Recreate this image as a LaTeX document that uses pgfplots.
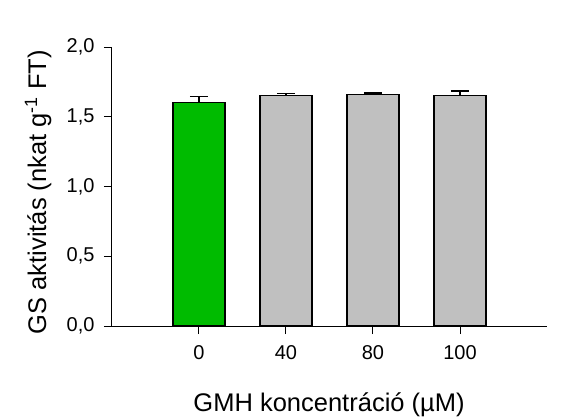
\documentclass[border=0pt]{standalone}
\usepackage{pgfplots}
\pgfplotsset{compat=1.18}
\usepackage{fontspec}
\setmainfont{Liberation Sans}
\definecolor{bargreen}{RGB}{0,187,0}
\definecolor{bargray}{RGB}{192,192,192}
\begin{document}
\begin{tikzpicture}
\useasboundingbox (-112pt,-90pt) rectangle (461pt,326pt);
\begin{axis}[
  scale only axis,
  width=435pt, height=279pt,
  xmin=-1, xmax=4, ymin=0, ymax=2.0,
  axis x line=bottom, axis y line=left,
  axis line style={line width=1pt, -},
  tick align=outside,
  major tick length=8pt,
  tick style={line width=1pt, black},
  xtick={0,1,2,3}, xticklabels={0,40,80,100},
  ytick={0,0.5,1.0,1.5,2.0},
  /pgf/number format/assume math mode=true,
  /pgf/number format/use comma,
  /pgf/number format/fixed,
  /pgf/number format/fixed zerofill,
  /pgf/number format/precision=1,
  tick label style={font=\fontsize{20}{20}\selectfont},
  yticklabel style={xshift=-6pt},
  xticklabel style={yshift=-8pt},
  ylabel={GS aktivitás (nkat g\textsuperscript{-1} FT)},
  xlabel={GMH koncentráció (µM)},
  label style={font=\fontsize{25.5}{26}\selectfont},
  ylabel style={at={(axis description cs:-0.170,0.48)}, anchor=center},
  xlabel style={at={(axis description cs:0.499,-0.3047)}, anchor=base},
  ybar, bar width=52pt, bar shift=0pt,
  clip=false,
]
\addplot[fill=bargreen, draw=black, line width=1.2pt,
  error bars/.cd, y dir=plus, y explicit,
  error bar style={line width=1.4pt, black},
  error mark options={rotate=90, mark size=9pt, line width=1.8pt, black}]
  coordinates {(0,1.600) +- (0,0.045)};
\addplot[fill=bargray, draw=black, line width=1.2pt,
  error bars/.cd, y dir=plus, y explicit,
  error bar style={line width=1.4pt, black},
  error mark options={rotate=90, mark size=9pt, line width=1.8pt, black}]
  coordinates {(1,1.652) +- (0,0.015) (2,1.657) +- (0,0.012) (3,1.654) +- (0,0.032)};
\end{axis}
\end{tikzpicture}
\end{document}
